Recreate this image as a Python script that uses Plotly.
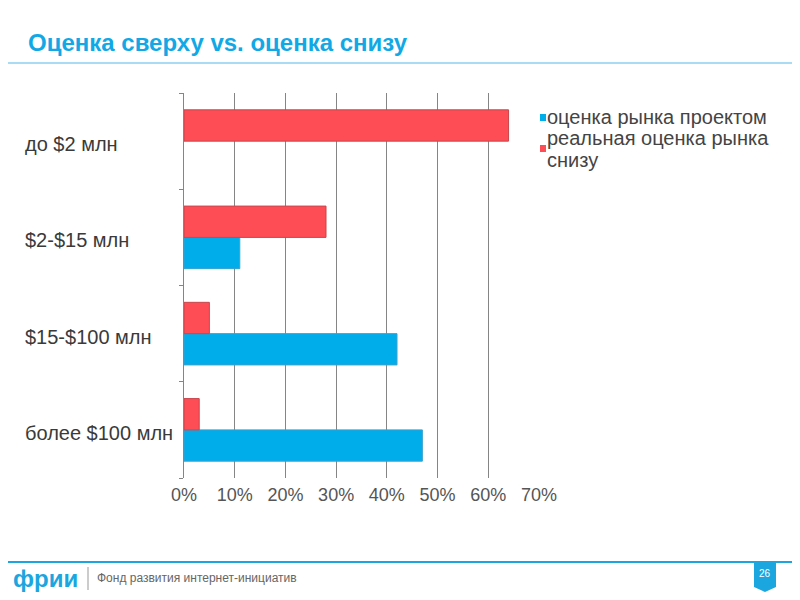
import plotly.graph_objects as go

categories = ["более $100 млн", "$15-$100 млн", "$2-$15 млн", "до $2 млн"]
project_vals = [0.47, 0.42, 0.11, 0.0]
real_vals = [0.03, 0.05, 0.28, 0.64]
series_names = ["оценка рынка проектом", "реальная оценка рынка снизу"]
tick_vals = [0, 0.1, 0.2, 0.3, 0.4, 0.5, 0.6, 0.7]
tick_text = ["0%", "10%", "20%", "30%", "40%", "50%", "60%", "70%"]

BLUE = "#00adeb"
RED = "#ff4d55"
FONT = "Liberation Sans, Arial, sans-serif"

# page body has an 8px margin; compensate so the plot area lands at screen x 184..539, y 93..478
OFF = 8
L, T, PW, PH = 184 - OFF, 93 - OFF, 355, 385

fig = go.Figure()
fig.add_trace(go.Bar(y=categories, x=project_vals, orientation="h", name=series_names[0],
                     marker=dict(color=BLUE, line=dict(color="#3aa0d0",
                                                       width=[1 if v > 0 else 0 for v in project_vals]))))
fig.add_trace(go.Bar(y=categories, x=real_vals, orientation="h", name=series_names[1],
                     marker=dict(color=RED, line=dict(color="#c8454a",
                                                      width=[1 if v > 0 else 0 for v in real_vals]))))

fig.update_layout(
    width=800, height=600,
    margin=dict(l=L, r=800 - L - PW, t=T, b=600 - T - PH),
    paper_bgcolor="white", plot_bgcolor="white",
    barmode="group", bargap=0.35, bargroupgap=0,
    showlegend=False,
    font=dict(family=FONT, size=15, color="#444"),
    xaxis=dict(range=[0, 0.7], tickvals=tick_vals, ticktext=tick_text,
               showgrid=True, gridcolor="#858585", gridwidth=1,
               zeroline=False, showline=False, ticks="", ticklabelstandoff=4,
               tickfont=dict(size=18, color="#555")),
    yaxis=dict(showticklabels=False, showgrid=False, showline=True,
               linecolor="#858585", linewidth=1, ticks="outside",
               tickson="boundaries", ticklen=4, tickcolor="#858585",
               range=[-0.5, 3.5]),
)

def px(x):
    return (x - 184) / PW

def py(y):
    return (478 - y) / PH

# category labels (left aligned)
for c in categories:
    fig.add_annotation(x=px(23), xref="paper", y=c, yref="y", text=c,
                       showarrow=False, xanchor="left", yanchor="middle", yshift=-3,
                       font=dict(size=20, color="#3a3a3a", family=FONT))

# custom legend
fig.add_shape(type="rect", xref="paper", yref="paper", x0=px(540), x1=px(546), y0=py(121), y1=py(114),
              fillcolor=BLUE, line=dict(width=0))
fig.add_shape(type="rect", xref="paper", yref="paper", x0=px(540), x1=px(546), y0=py(152), y1=py(145),
              fillcolor=RED, line=dict(width=0))
for txt, yy in [("оценка рынка проектом", 117), ("реальная оценка рынка", 138), ("снизу", 160)]:
    fig.add_annotation(x=px(545), xref="paper", y=py(yy), yref="paper", xanchor="left", yanchor="middle",
                       showarrow=False, text=txt, font=dict(size=20, color="#444", family=FONT))

# title
fig.add_annotation(x=px(26), xref="paper", y=py(42), yref="paper", text="<b>Оценка сверху vs. оценка снизу</b>",
                   showarrow=False, xanchor="left", yanchor="middle",
                   font=dict(size=24, color="#12a8e6", family=FONT))

fig.add_shape(type="line", xref="paper", yref="paper", x0=px(8), x1=px(792), y0=py(63), y1=py(63),
              line=dict(color="#a9dcf4", width=2))
fig.add_shape(type="line", xref="paper", yref="paper", x0=px(8), x1=px(792), y0=py(562), y1=py(562),
              line=dict(color="#1ba6df", width=2))
# page badge
fig.add_shape(type="path", xref="paper", yref="paper",
              path=f"M {px(754)},{py(562)} L {px(776)},{py(562)} L {px(776)},{py(587)} L {px(765)},{py(592)} L {px(754)},{py(587)} Z",
              fillcolor="#1ba6df", line=dict(width=0), layer="below")
fig.add_annotation(x=px(765), xref="paper", y=py(573), yref="paper", text="26", showarrow=False,
                   xanchor="center", yanchor="middle",
                   font=dict(size=10, color="white", family=FONT))
# logo
fig.add_annotation(x=px(11), xref="paper", y=py(578), yref="paper", text="<b>фрии</b>", showarrow=False,
                   xanchor="left", yanchor="middle", font=dict(size=24, color="#1ba6df", family=FONT))
fig.add_shape(type="line", xref="paper", yref="paper", x0=px(88), x1=px(88), y0=py(567), y1=py(590),
              line=dict(color="#999", width=1))
fig.add_annotation(x=px(95), xref="paper", y=py(578), yref="paper", text="Фонд развития интернет-инициатив",
                   showarrow=False, xanchor="left", yanchor="middle",
                   font=dict(size=12, color="#666", family=FONT))

fig.write_html("out.html")
